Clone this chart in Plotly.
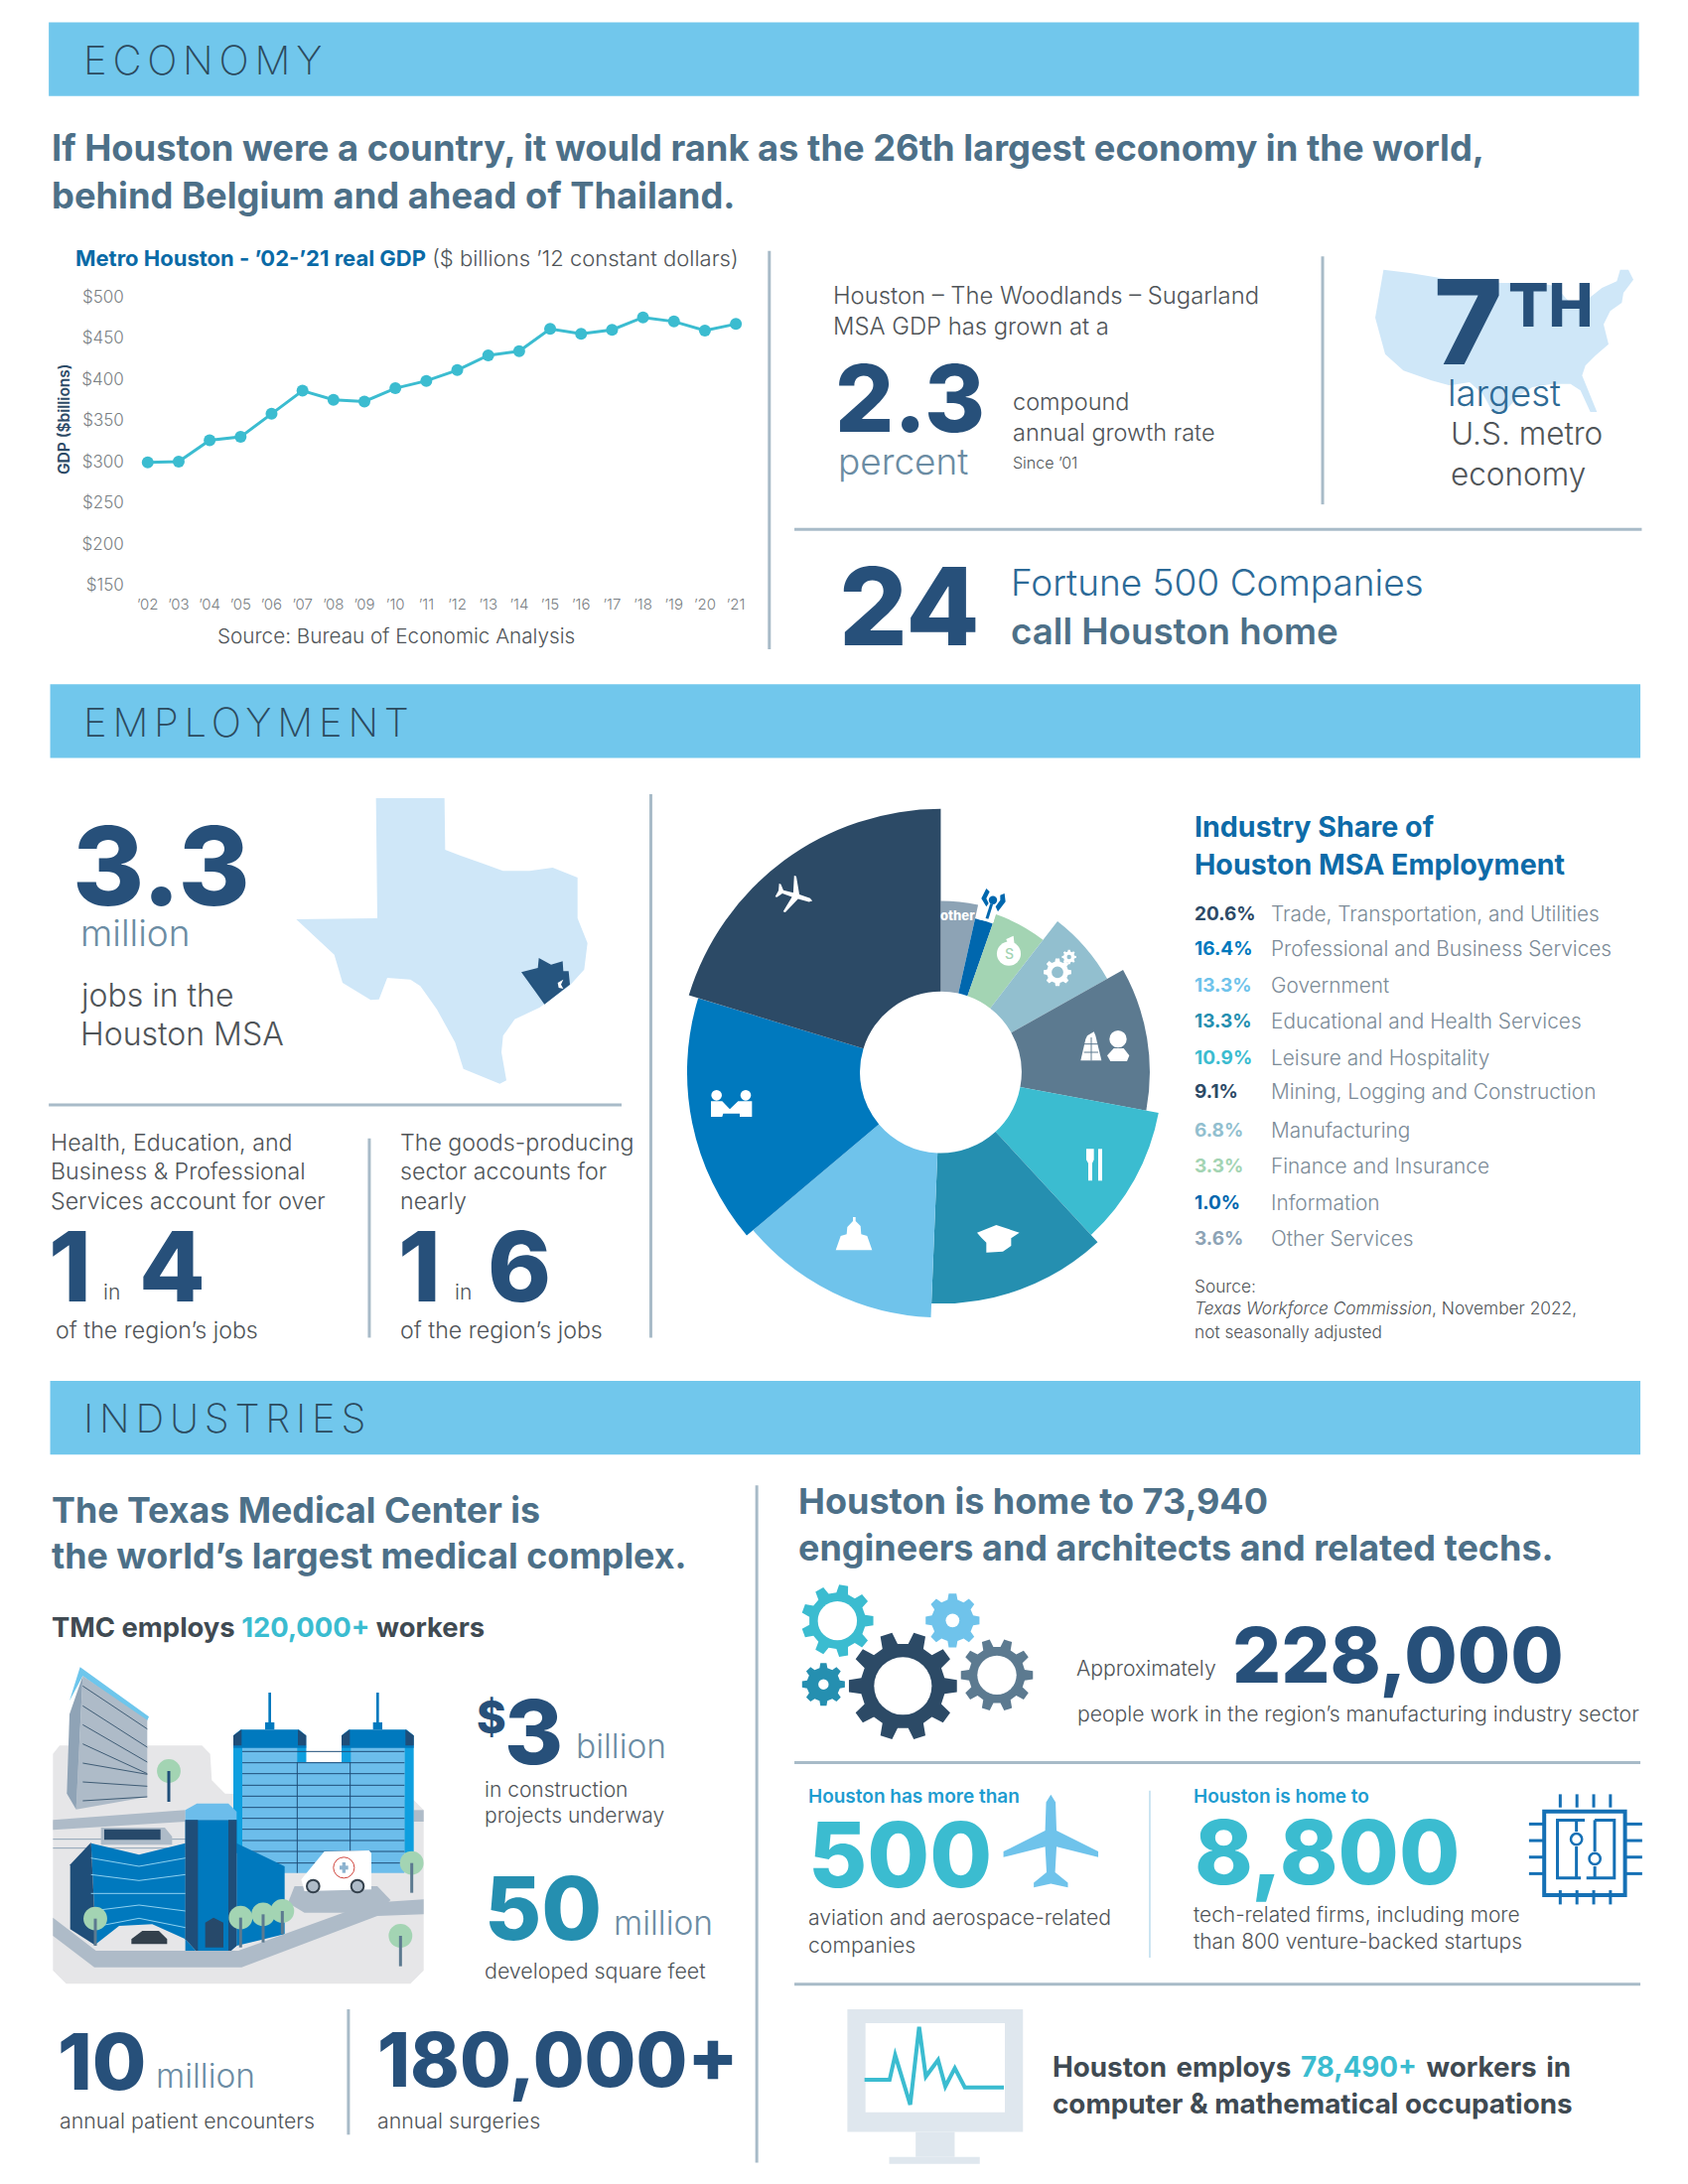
import math
import plotly.graph_objects as go

# GDP chart
gdp_years = ["’02", "’03", "’04", "’05", "’06", "’07", "’08", "’09", "’10", "’11",
             "’12", "’13", "’14", "’15", "’16", "’17", "’18", "’19", "’20", "’21"]
gdp_values = [299, 300, 326, 330, 358, 386, 375, 373, 389, 398,
              411, 429, 434, 461, 455, 460, 475, 470, 459, 467]
gdp_ticks = [150, 200, 250, 300, 350, 400, 450, 500]
gdp_ticktext = ["$150", "$200", "$250", "$300", "$350", "$400", "$450", "$500"]

# pie, clockwise from 12 o'clock
sector_names = ["Other Services", "Information", "Finance and Insurance", "Manufacturing",
                "Mining, Logging and Construction", "Leisure and Hospitality",
                "Educational and Health Services", "Government",
                "Professional and Business Services", "Trade, Transportation, and Utilities"]
sector_sweep = [12.6, 6.7, 18.4, 23.0, 39.9, 36.7, 45.0, 47.6, 57.1, 73.0]
sector_outer = [123, 113, 120, 137, 150, 159, 166, 176, 182, 189]
sector_colors = ["#8DA3B5", "#0067AE", "#A3D4B3", "#92BFCF", "#5C7A90",
                 "#3BBCD0", "#258FB0", "#6FC3EB", "#0079BE", "#2C4A66"]

# legend, top to bottom
legend_pct = ["20.6%", "16.4%", "13.3%", "13.3%", "10.9%", "9.1%", "6.8%", "3.3%", "1.0%", "3.6%"]
legend_names = ["Trade, Transportation, and Utilities", "Professional and Business Services",
                "Government", "Educational and Health Services", "Leisure and Hospitality",
                "Mining, Logging and Construction", "Manufacturing", "Finance and Insurance",
                "Information", "Other Services"]
legend_colors = ["#2C4A66", "#0079BE", "#6FC3EB", "#258FB0", "#3BBCD0",
                 "#2C4A66", "#92BFCF", "#A3D4B3", "#0067AE", "#8DA3B5"]
legend_y = [656, 681, 707, 733, 759, 783, 811, 837, 863, 889]

FONT = "Inter"
W, H = 1700, 2200
S = 1.4036  # everything below is placed on a 1211 x 1567 grid
BAR = "#71C7EC"
RULE = "#A8BBC8"
NAVY = "#27507A"
SLATE = "#4D7088"
TEAL = "#3BBCD0"
GREY = "#4F5458"
SOFT = "#6B8CA3"

shapes = []
notes = []


def txt(x, y, s, size, color=GREY, weight=300, anchor="left"):
    if anchor == "left":
        x -= 0.7  # Inter's side bearing
    notes.append(dict(x=x, y=y, xref="x2", yref="y2", text=s, showarrow=False, xanchor=anchor,
                      yanchor="middle", align=anchor, borderpad=0,
                      font=dict(family=FONT, size=size, color=color, weight=weight)))


def rect(x0, y0, x1, y1, color):
    shapes.append(dict(type="rect", xref="x2", yref="y2", x0=x0, y0=y0, x1=x1, y1=y1,
                       fillcolor=color, line_width=0))


def line(x0, y0, x1, y1, color=RULE, width=3):
    shapes.append(dict(type="line", xref="x2", yref="y2", x0=x0, y0=y0, x1=x1, y1=y1,
                       line=dict(color=color, width=width)))


def poly(pts, color):
    path = "M" + "L".join(f"{x:.2f},{y:.2f}" for x, y in pts) + "Z"
    shapes.append(dict(type="path", xref="x2", yref="y2", path=path, fillcolor=color, line_width=0))


def stroke(pts, color, width=3):
    path = "M" + "L".join(f"{x:.2f},{y:.2f}" for x, y in pts)
    shapes.append(dict(type="path", xref="x2", yref="y2", path=path, line=dict(color=color, width=width)))


def circle(cx, cy, r, color, outline=None, lw=0):
    shapes.append(dict(type="circle", xref="x2", yref="y2", x0=cx - r, x1=cx + r, y0=cy - r, y1=cy + r,
                       fillcolor=color, line=dict(color=outline or color, width=lw)))


def gear(cx, cy, r, color, hole="#FFFFFF", teeth=8, ratio=0.5, root=0.78):
    pts = []
    step = 2 * math.pi / teeth
    for i in range(teeth):
        a = step * i
        for off, rad in [(-0.3, root), (-0.18, 1.0), (0.18, 1.0), (0.3, root)]:
            pts.append((cx + rad * r * math.cos(a + off * step), cy + rad * r * math.sin(a + off * step)))
    poly(pts, color)
    circle(cx, cy, r * ratio, hole)


def plane(cx, cy, size, deg, color):
    half = [(0, -0.5), (0.05, -0.42), (0.06, -0.12), (0.5, 0.1), (0.5, 0.16), (0.06, 0.05),
            (0.045, 0.32), (0.18, 0.43), (0.18, 0.48), (0, 0.44)]
    outline = half + [(-x, y) for x, y in reversed(half[1:-1])]
    t = math.radians(deg)
    pts = [(cx + size * (x * math.cos(t) - y * math.sin(t)), cy + size * (x * math.sin(t) + y * math.cos(t)))
           for x, y in outline]
    poly(pts, color)


def crop(ox, oy, pts):
    return [((ox + x / 3) / S, (oy + y / 3) / S) for x, y in pts]


# section bars
for y0, x0, word in [(16, 35, "ECONOMY"), (491, 36, "EMPLOYMENT"), (991, 36, "INDUSTRIES")]:
    rect(x0, y0, x0 + 1141, y0 + 53, BAR)
    txt(60, y0 + 27, f'<span style="letter-spacing:5.8px">{word}</span>', 40, "#2C4A5E", 200)

# economy
txt(37, 106.5, "If Houston were a country, it would rank as the 26th largest economy in the world,", 36.3, SLATE, 700)
txt(37, 140.5, "behind Belgium and ahead of Thailand.", 36.3, SLATE, 700)
txt(54, 185, '<span style="color:#0A6AA6;font-weight:700">Metro Houston - ’02-’21 real GDP</span>'
    ' ($ billions ’12 constant dollars)', 22, GREY)
txt(156, 456, "Source: Bureau of Economic Analysis", 20.7, GREY)
txt(46, 301, "GDP ($billions)", 15.5, "#2C4A66", 600, "center")
notes[-1]["textangle"] = -90
line(552, 180, 552, 466)
line(949, 184, 949, 362)
line(570, 380, 1178, 380)
txt(598, 212, "Houston – The Woodlands – Sugarland", 23.8)
txt(598, 234, "MSA GDP has grown at a", 23.8)
txt(599, 286, "2.3", 93, NAVY, 800)
txt(601, 331, "percent", 37, SOFT, 300)
txt(727, 288, "compound", 23.5)
txt(727, 310, "annual growth rate", 23.5)
txt(727, 332, "Since ’01", 16)
poly(crop(1370, 250, [(70, 65), (150, 75), (300, 100), (430, 105), (540, 105), (590, 115), (620, 150), (650, 180),
                      (680, 160), (730, 120), (775, 100), (785, 65), (810, 65), (825, 95), (795, 135), (790, 165),
                      (755, 190), (735, 230), (750, 290), (710, 325), (680, 355), (670, 385), (715, 495), (695, 495),
                      (665, 430), (635, 410), (580, 410), (520, 420), (480, 445), (440, 490), (400, 495), (370, 440),
                      (330, 405), (270, 415), (215, 400), (130, 370), (75, 320), (45, 210)]), "#CFE7F8")
txt(1029, 231, "7", 118, NAVY, 800)
txt(1082, 218.5, "TH", 60, NAVY, 800)
txt(1039, 282, "largest", 36.5, "#2E6A95", 300)
txt(1041, 311, "U.S. metro", 31.5, GREY, 300)
txt(1041, 340, "economy", 31.5, GREY, 300)
txt(602, 435, "24", 108, NAVY, 800)
txt(725, 418, "Fortune 500 Companies", 37, "#2C6A97", 300)
txt(725, 453, "call Houston home", 36.7, SLATE, 600)

# employment
txt(52, 621, "3.3", 110, NAVY, 800)
txt(58, 669, "million", 37, SOFT, 300)
txt(58, 714, "jobs in the", 32, GREY, 300)
txt(58, 742, "Houston MSA", 32, GREY, 300)
poly(crop(280, 790, [(296, 42), (503, 42), (505, 198), (550, 215), (620, 240), (680, 262), (760, 262), (830, 252),
                     (905, 282), (905, 405), (935, 480), (925, 560), (880, 610), (790, 675), (715, 710), (680, 760),
                     (675, 810), (690, 895), (670, 905), (560, 860), (535, 780), (480, 680), (430, 610), (400, 590),
                     (330, 585), (305, 650), (280, 652), (195, 600), (170, 515), (55, 408), (300, 405)]), "#CFE7F8")
poly(crop(280, 790, [(735, 568), (785, 555), (788, 525), (825, 545), (860, 535), (862, 565), (878, 565), (882, 605),
                     (805, 665), (780, 630)]), "#26557F")
poly(crop(280, 790, [(845, 600), (862, 590), (855, 605), (862, 618), (848, 615)]), "#FFFFFF")
line(35, 793, 446, 793)
line(265, 817, 265, 960)
line(467, 570, 467, 960)
for i, s in enumerate(["Health, Education, and", "Business & Professional", "Services account for over"]):
    txt(36, 820 + 21 * i, s, 23.2)
for i, s in enumerate(["The goods-producing", "sector accounts for", "nearly"]):
    txt(287, 820 + 21 * i, s, 23.2)
txt(35, 909, "1", 97, NAVY, 800)
txt(74, 927, "in", 21)
txt(100, 909, "4", 97, NAVY, 800)
txt(40, 955, "of the region’s jobs", 23.2)
txt(286, 909, "1", 97, NAVY, 800)
txt(326, 927, "in", 21)
txt(350, 909, "6", 97, NAVY, 800)
txt(287, 955, "of the region’s jobs", 23.2)

txt(857, 593, "Industry Share of", 28.6, "#0D6BA8", 700)
txt(857, 620, "Houston MSA Employment", 28.6, "#0D6BA8", 700)
for y, pct, name, col in zip(legend_y, legend_pct, legend_names, legend_colors):
    txt(857, y, pct, 19, col, 700)
    txt(912, y, name, 20.8, "#7C8B97", 300)
txt(857, 923, "Source:", 17.3, GREY)
txt(857, 939, "<i>Texas Workforce Commission</i>, November 2022,", 17.3, GREY)
txt(857, 956, "not seasonally adjusted", 17.3, GREY)

# white pictograms on the pie
plane(570, 642.6, 27, 107, "#FFFFFF")
for x, y in crop(690, 860, [(95, 730), (183, 730)]):
    circle(x, y, 3.8, "#FFFFFF")
poly(crop(690, 860, [(78, 748), (112, 748), (135, 772), (160, 748), (202, 748), (202, 795), (165, 795), (165, 785),
                     (115, 785), (112, 795), (78, 795)]), "#FFFFFF")
poly(crop(810, 1130, [(95, 388), (205, 388), (190, 345), (172, 340), (170, 315), (155, 300), (155, 288), (147, 288),
                      (147, 300), (130, 318), (128, 340), (110, 345)]), "#FFFFFF")
poly(crop(810, 1130, [(522, 335), (580, 312), (650, 335), (625, 352), (625, 375), (600, 392), (550, 395), (550, 365),
                      (535, 350)]), "#FFFFFF")
poly(crop(810, 1130, [(852, 82), (875, 82), (875, 115), (870, 125), (870, 178), (858, 178), (858, 125), (852, 115)]),
     "#FFFFFF")
poly(crop(810, 1130, [(888, 82), (900, 82), (900, 178), (888, 178)]), "#FFFFFF")
poly(crop(930, 870, [(495, 520), (515, 508), (520, 520), (538, 595), (475, 595), (490, 530)]), "#FFFFFF")
for zy in (545, 570):
    stroke(crop(930, 870, [(485, zy), (528, zy)]), "#5C7A90", 1)
stroke(crop(930, 870, [(507, 525), (507, 595)]), "#5C7A90", 1)
circle(*crop(930, 870, [(588, 530)])[0], 6.2, "#FFFFFF")
poly(crop(930, 870, [(555, 580), (575, 558), (605, 558), (622, 580), (615, 597), (565, 597)]), "#FFFFFF")
gear(*crop(930, 870, [(405, 328)])[0], 10, "#FFFFFF", "#92BFCF", ratio=0.42)
gear(*crop(930, 870, [(440, 282)])[0], 5.2, "#FFFFFF", "#92BFCF", ratio=0.3)
circle(*crop(930, 870, [(258, 272)])[0], 8.6, "#FFFFFF")
poly(crop(930, 870, [(250, 228), (272, 218), (275, 245), (258, 250)]), "#FFFFFF")
txt(*crop(930, 870, [(258, 272)])[0], "S", 14, "#A3D4B3", 500, "center")
txt(687.5, 656.8, "other", 13, "#FFFFFF", 800, "center")
poly(crop(930, 870, [(165, 168), (178, 130), (218, 140), (212, 178)]), "#FFFFFF")
stroke(crop(930, 870, [(206, 122), (192, 166)]), "#0067AE", 3)
circle(*crop(930, 870, [(210, 110)])[0], 3, "#0067AE")
poly(crop(930, 870, [(190, 75), (175, 105), (190, 130), (197, 120), (190, 105), (200, 85)]), "#0067AE")
poly(crop(930, 870, [(245, 90), (248, 115), (225, 145), (218, 130), (232, 110), (232, 95)]), "#0067AE")

# industries
txt(37, 1083.5, "The Texas Medical Center is", 35.8, SLATE, 700)
txt(37, 1116.5, "the world’s largest medical complex.", 35.8, SLATE, 700)
txt(37, 1168, f'TMC employs <span style="color:{TEAL}">120,000+</span> workers', 27.4, "#3F4A52", 700)
line(543, 1066, 543, 1552)
txt(573, 1077.5, "Houston is home to 73,940", 36, SLATE, 700)
txt(573, 1110.5, "engineers and architects and related techs.", 36, SLATE, 700)


# hospital scene, drawn in a 1240-wide sketch grid
def h(pts):
    return crop(40, 1660, pts)


poly(h([(60, 295), (490, 295), (515, 320), (520, 400), (560, 440), (1130, 460), (1160, 490), (1160, 975),
        (1120, 1015), (80, 1015), (40, 975), (40, 320)]), "#E6E6E8")
poly(h([(122, 58), (330, 208), (322, 226), (130, 85), (90, 160)]), "#6EC6EC")
poly(h([(130, 85), (325, 218), (325, 450), (110, 488)]), "#AEBBC8")
poly(h([(130, 85), (110, 488), (82, 440), (90, 200)]), "#8FA3B6")
for y0, y1 in [(115, 245), (175, 300), (232, 345), (290, 380), (348, 382), (405, 418), (462, 450)]:
    stroke(h([(130, y0), (325, y1)]), "#3F5C75", 1)
poly(h([(40, 520), (440, 490), (440, 525), (40, 550)]), "#AEBBC8")
rect(*h([(1130, 490)])[0], *h([(1160, 525)])[0], "#AEBBC8")
line(*h([(40, 578)])[0], *h([(450, 578)])[0], "#8FA3B6", 1)
line(*h([(40, 605)])[0], *h([(450, 605)])[0], "#8FA3B6", 1)
poly(h([(185, 543), (378, 543), (400, 570), (400, 595), (185, 595)]), "#AEBBC8")
rect(*h([(195, 548)])[0], *h([(365, 580)])[0], "#27496A")
# twin towers
rect(*h([(612, 295)])[0], *h([(1102, 680)])[0], "#6CBDEB")
rect(*h([(805, 290)])[0], *h([(912, 345)])[0], "#FFFFFF")
for a, b in [(585, 612), (778, 805), (912, 940), (1102, 1130)]:
    bot = 620 if a in (585, 1102) else 345
    rect(*h([(a, 295)])[0], *h([(b, bot)])[0], "#0E9FDF")
for a, b in [(585, 805), (912, 1130)]:
    poly(h([(a, 265), (a + 22, 247), (b - 22, 247), (b, 265), (b, 302), (a, 302)]), "#0079BE")
    poly(h([(a, 265), (a + 25, 247), (a + 25, 295), (a, 295)]), "#1F4E79")
    poly(h([(b - 25, 247), (b, 265), (b, 295), (b - 25, 295)]), "#1F4E79")
    mid = (a + b) / 2
    rect(*h([(mid - 14, 225)])[0], *h([(mid + 14, 247)])[0], "#0079BE")
    rect(*h([(mid - 4, 135)])[0], *h([(mid + 4, 225)])[0], "#0079BE")
for y in (313, 347, 380, 415, 448, 482, 515, 548, 582, 615, 650):
    stroke(h([(612, y), (1102, y)]), "#1F4E79", 1)
stroke(h([(778, 345), (778, 680)]), "#1F4E79", 1)
stroke(h([(938, 345), (938, 680)]), "#1F4E79", 1)
# front block
poly(h([(155, 590), (300, 625), (440, 590), (440, 925), (480, 925), (440, 880), (340, 835), (240, 840), (170, 895)]),
     "#0079BE")
poly(h([(92, 655), (155, 588), (170, 900), (92, 850)]), "#1F4E79")
poly(h([(595, 590), (740, 660), (740, 865), (595, 900)]), "#0079BE")
poly(h([(440, 490), (475, 470), (570, 470), (595, 495), (595, 520), (440, 520)]), "#6CBDEB")
poly(h([(440, 520), (595, 520), (595, 900), (570, 922), (480, 922), (440, 880)]), "#0079BE")
poly(h([(440, 520), (478, 520), (478, 922), (440, 880)]), "#1F4E79")
poly(h([(570, 520), (595, 520), (595, 900), (570, 922)]), "#1F4E79")
poly(h([(500, 830), (525, 815), (555, 830), (555, 905), (500, 905)]), "#27496A")
for yy, sag in [(635, 25), (685, 18), (742, 0), (795, -18), (845, -28)]:
    stroke(h([(155, yy), (300, yy + sag), (440, yy)]), "#8ED1F0", 1)
# road
poly(h([(40, 815), (170, 915), (600, 915), (1000, 770), (1160, 760), (1160, 805), (1020, 810), (610, 965),
        (165, 965), (40, 870)]), "#AEBBC8")
poly(h([(770, 720), (1020, 720), (1060, 762), (1020, 800), (800, 800), (750, 770)]), "#AEBBC8")
# van
poly(h([(790, 700), (860, 615), (995, 612), (1002, 620), (1002, 730), (800, 735)]), "#FFFFFF")
circle(*h([(919, 664)])[0], 7.5, "#FFFFFF", "#D0443C", 1)
rect(*h([(906, 658)])[0], *h([(932, 670)])[0], "#8DB3CF")
rect(*h([(914, 648)])[0], *h([(924, 680)])[0], "#8DB3CF")
circle(*h([(826, 720)])[0], 4.5, "#AEBBC8", "#33404C", 2)
circle(*h([(960, 720)])[0], 4.5, "#AEBBC8", "#33404C", 2)
# car and trees
poly(h([(277, 880), (310, 855), (360, 855), (385, 880), (385, 895), (277, 895)]), "#33404C")
for tx, ty, tb, tc in [(390, 372, 465, "#1F4E79"), (168, 818, 900, "#5C7A90"), (607, 815, 905, "#5C7A90"),
                       (675, 805, 890, "#5C7A90"), (733, 795, 865, "#5C7A90"), (1124, 650, 740, "#5C7A90"),
                       (1090, 870, 962, "#5C7A90")]:
    circle(*h([(tx, ty)])[0], 8.5, "#A3D4B3")
    stroke(h([(tx, ty), (tx, tb)]), tc, 3)

txt(342, 1232, "$", 45, NAVY, 800)
txt(362, 1243, "3", 90, NAVY, 800)
txt(413, 1253, "billion", 33.5, SOFT, 300)
txt(348, 1284, "in construction", 21)
txt(348, 1303, "projects underway", 21)
txt(348, 1369, "50", 88, "#258FB0", 800)
txt(440, 1380, "million", 33.5, SOFT, 300)
txt(348, 1414, "developed square feet", 21.4)
txt(41, 1479, "10", 79, NAVY, 800)
txt(112, 1490, "million", 33.5, SOFT, 300)
txt(43, 1522, "annual patient encounters", 21.3)
line(250, 1442, 250, 1532)
txt(271, 1478, "180,000+", 75, NAVY, 800)
txt(271, 1522, "annual surgeries", 21.3)

gear(*crop(800, 1600, [(130, 98)])[0], 26, TEAL, teeth=9, ratio=0.54)
gear(*crop(800, 1600, [(88, 290)])[0], 15.5, "#258FB0", teeth=8, ratio=0.24)
gear(*crop(800, 1600, [(328, 295)])[0], 39, "#2C4A66", teeth=10, ratio=0.53)
gear(*crop(800, 1600, [(478, 97)])[0], 19.5, "#6FC3EB", teeth=8, ratio=0.25)
gear(*crop(800, 1600, [(612, 262)])[0], 26, "#5C7A90", teeth=10, ratio=0.54)
txt(772, 1197, "Approximately", 21.2)
txt(884, 1188, "228,000", 77.3, NAVY, 800)
txt(773, 1230, "people work in the region’s manufacturing industry sector", 21.2)
line(570, 1265, 1177, 1265)

txt(580, 1289, "Houston has more than", 19, "#1E9CD0", 600)
txt(580, 1331, "500", 91, TEAL, 800)
plane(754, 1322, 68, 0, "#6FC3EB")
txt(580, 1376, "aviation and aerospace-related", 21.2)
txt(580, 1396, "companies", 21.2)
line(825, 1285, 825, 1405, "#BBDDEE", 1.5)
txt(856, 1289, "Houston is home to", 19, "#1E9CD0", 600)
txt(857, 1329, "8,800", 88.7, TEAL, 800)
txt(856, 1374, "tech-related firms, including more", 20.9)
txt(856, 1393, "than 800 venture-backed startups", 20.9)


# chip icon, sketch grid
def c(x, y):
    return (564.3 + x / 2.5, 1268.2 + y / 4.21)


CHIP = "#1570B5"
shapes.append(dict(type="rect", xref="x2", yref="y2", x0=1108, y0=1300, x1=1166, y1=1360,
                   line=dict(color=CHIP, width=4)))
for zx in (1388, 1418, 1448, 1478):
    stroke([c(zx, 82), c(zx, 122)], CHIP)
    stroke([c(zx, 372), c(zx, 415)], CHIP)
for zy in (172, 222, 272, 322):
    stroke([c(1332, zy), c(1360, zy)], CHIP)
    stroke([c(1505, zy), c(1535, zy)], CHIP)
stroke([c(1432, 160), c(1383, 160), c(1383, 335), c(1425, 335)], CHIP)
stroke([c(1450, 160), c(1485, 160), c(1485, 335), c(1435, 335)], CHIP)
stroke([c(1417, 160), c(1417, 195)], CHIP)
stroke([c(1417, 240), c(1417, 335)], CHIP)
stroke([c(1450, 160), c(1450, 255)], CHIP)
stroke([c(1450, 300), c(1450, 335)], CHIP)
circle(*c(1417, 218), 4, "#FFFFFF", CHIP, 2.5)
circle(*c(1450, 277), 4, "#FFFFFF", CHIP, 2.5)

line(570, 1424, 1177, 1424)
rect(608, 1442, 734, 1530, "#DFE7EE")
rect(621, 1452, 721, 1516, "#FFFFFF")
rect(657, 1530, 685, 1548, "#DFE7EE")
rect(638, 1548, 703, 1553, "#DFE7EE")
stroke([c(140, 945), c(185, 945), c(195, 870), c(222, 1020), c(238, 785), c(250, 935), c(272, 885),
        c(285, 965), c(302, 910), c(320, 968), c(390, 968)], TEAL, 4)
txt(755, 1483.5, f'<span style="word-spacing:3px">Houston employs <span style="color:{TEAL}">78,490+</span> workers in</span>',
    27.8, "#3F4A52", 700)
txt(755, 1509.5, "computer &amp; mathematical occupations", 27.8, "#3F4A52", 700)

fig = go.Figure()
fig.add_trace(go.Scatter(x=gdp_years, y=gdp_values, mode="lines+markers", showlegend=False, hoverinfo="skip",
                         line=dict(color="#3BBCD0", width=3), marker=dict(color="#3BBCD0", size=12)))
theta = []
start = 0
for sweep in sector_sweep:
    theta.append(start + sweep / 2)
    start += sweep
HOLE = 58
fig.add_trace(go.Barpolar(r=[o - HOLE for o in sector_outer], base=HOLE, theta=theta, width=sector_sweep,
                          marker=dict(color=sector_colors, line_width=0), text=sector_names,
                          hoverinfo="skip", showlegend=False))
fig.add_trace(go.Scatter(x=[0], y=[0], xaxis="x2", yaxis="y2", mode="markers", marker_opacity=0,
                         hoverinfo="skip", showlegend=False))

PIE_X, PIE_Y, PIE_R = 675 * S, 769.5 * S, 190 * S
step = 422 / 19
fig.update_layout(
    width=W, height=H, margin=dict(l=0, r=0, t=0, b=0), paper_bgcolor="#FFFFFF", plot_bgcolor="rgba(0,0,0,0)",
    font=dict(family=FONT),
    xaxis=dict(domain=[(106 - step / 2) * S / W, (528 + step / 2) * S / W], range=[-0.5, 19.5], type="category",
               categoryorder="array", categoryarray=gdp_years, showgrid=False, zeroline=False, showline=False,
               ticks="outside", ticklen=5, tickcolor="rgba(0,0,0,0)",
               tickfont=dict(size=15, color="#7A7F84", family=FONT, weight=300), anchor="y", tickangle=0,
               automargin=False),
    yaxis=dict(domain=[1 - 420 * S / H, 1 - 213 * S / H], range=[150, 500], tickvals=gdp_ticks, ticktext=gdp_ticktext,
               showgrid=False, zeroline=False, showline=False, ticks="outside", ticklen=4, tickcolor="rgba(0,0,0,0)",
               anchor="x", tickfont=dict(size=17, color="#7A7F84", family=FONT, weight=300), automargin=False),
    xaxis2=dict(domain=[0, 1], range=[0, W / S], visible=False, anchor="y2", fixedrange=True),
    yaxis2=dict(domain=[0, 1], range=[H / S, 0], visible=False, anchor="x2", fixedrange=True),
    polar=dict(domain=dict(x=[(PIE_X - PIE_R) / W, (PIE_X + PIE_R) / W],
                           y=[1 - (PIE_Y + PIE_R) / H, 1 - (PIE_Y - PIE_R) / H]),
               bgcolor="rgba(0,0,0,0)",
               radialaxis=dict(visible=False, range=[0, 190]),
               angularaxis=dict(visible=False, direction="clockwise", rotation=90)),
    shapes=shapes, annotations=notes,
)

fig.write_html("out.html", config={"displayModeBar": False}, post_script="document.body.style.margin='0';")
